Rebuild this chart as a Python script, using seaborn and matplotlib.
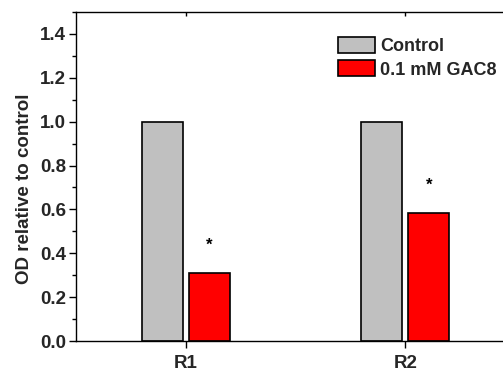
import matplotlib
matplotlib.use("Agg")
import matplotlib.pyplot as plt
import seaborn as sns
import pandas as pd
from matplotlib.ticker import MultipleLocator

# Optical density relative to control, per region
regions = ["R1", "R2"]
treatments = ["Control", "0.1 mM GAC8"]
control_values = [1.0, 1.0]
gac8_values = [0.31, 0.585]
significant = [True, True]
y_ticks = [0.0, 0.2, 0.4, 0.6, 0.8, 1.0, 1.2, 1.4]

df = pd.DataFrame({
    "region": regions * 2,
    "treatment": [treatments[0]] * len(regions) + [treatments[1]] * len(regions),
    "od": control_values + gac8_values,
})

sns.set_theme(style="white")
plt.rcParams["font.family"] = ["Liberation Sans", "DejaVu Sans"]
plt.rcParams["font.weight"] = "bold"

FS = 13.5

fig = plt.figure(figsize=(5.03, 3.74), dpi=100)
ax = fig.add_axes([0.151, 0.088, 0.873, 0.880])

palette = {treatments[0]: "#C0C0C0", treatments[1]: "#FF0000"}
sns.barplot(data=df, x="region", y="od", hue="treatment", order=regions,
            hue_order=treatments, palette=palette, width=0.426, gap=0.12,
            edgecolor="black", linewidth=1.2, saturation=1, ax=ax)

ax.set_xlim(-0.5, 1.5)
ax.set_ylim(0, 1.5)
ax.yaxis.set_minor_locator(MultipleLocator(0.1))
ax.set_yticks(y_ticks)
ax.set_yticklabels([f"{v:.1f}" for v in y_ticks])

ax.set_xlabel("")
ax.set_ylabel("OD relative to control", fontsize=FS, fontweight="bold")
ax.yaxis.set_label_coords(-0.098, 0.462)

for side in ["left", "bottom", "top"]:
    ax.spines[side].set_visible(True)
    ax.spines[side].set_color("black")
    ax.spines[side].set_linewidth(1.0)
ax.spines["right"].set_visible(False)

ax.tick_params(axis="y", which="major", direction="out", length=5, width=1,
               color="black", labelsize=FS, left=True, pad=2)
ax.tick_params(axis="y", which="minor", direction="out", length=3, width=1,
               color="black", left=True)
ax.tick_params(axis="x", which="major", direction="out", length=5, width=1,
               color="black", labelsize=FS, bottom=True, pad=5)
for lbl in ax.get_xticklabels() + ax.get_yticklabels():
    lbl.set_fontweight("bold")

# inward ticks on the top spine at each region
top = ax.secondary_xaxis("top")
top.set_xticks(range(len(regions)))
top.set_xticklabels([])
top.tick_params(direction="in", length=3, width=1, color="black")
top.spines["top"].set_visible(False)

# significance markers above the treated bars
for i, (v, sig) in enumerate(zip(gac8_values, significant)):
    if sig:
        ax.text(i + 0.1065, v + 0.125, "*", ha="center", va="center",
                fontsize=12, fontweight="bold", color="black")

handles, labels = ax.get_legend_handles_labels()
ax.legend(handles, labels, loc="upper left",
          bbox_to_anchor=(338 / 503, 1 - 37 / 374), bbox_transform=fig.transFigure,
          frameon=False, borderpad=0, borderaxespad=0, handlelength=2.05,
          handleheight=1.0, labelspacing=0.28, handletextpad=0.28,
          prop={"size": 13, "weight": "bold"})

fig.savefig("out.png", dpi=100)
